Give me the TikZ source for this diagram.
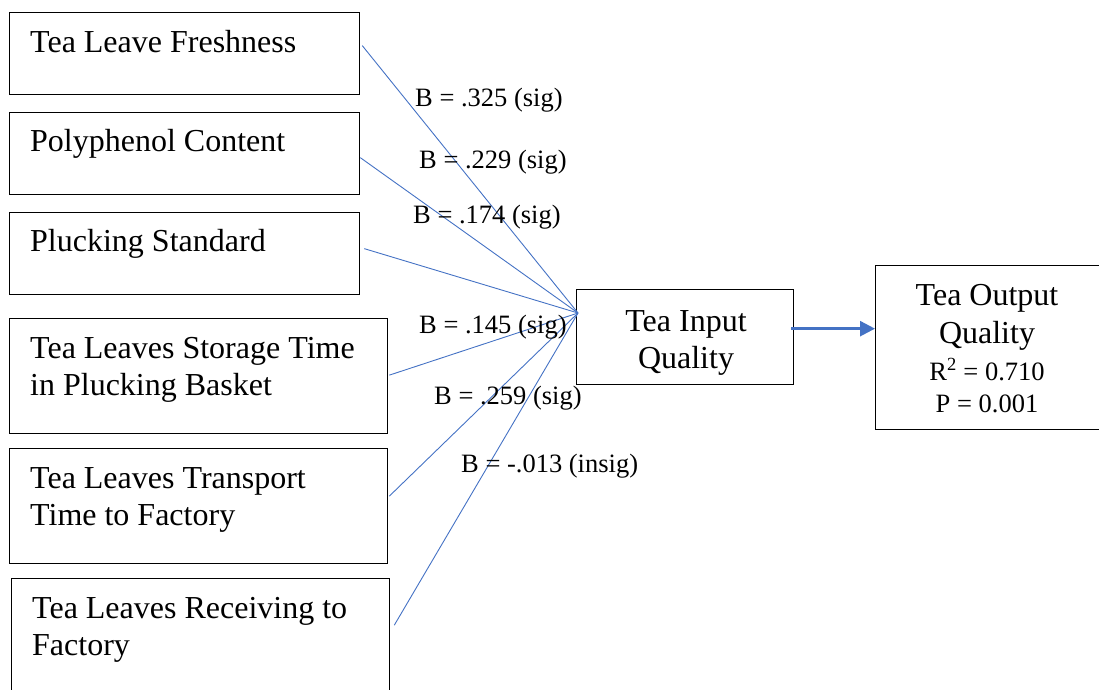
\documentclass[tikz,border=0pt]{standalone}
\usepackage{fontspec}
\setmainfont{Liberation Serif}
\usetikzlibrary{arrows.meta}
\definecolor{pathblue}{RGB}{68,114,196}
\newcommand{\bigtxt}{\fontsize{32}{37}\selectfont}
\newcommand{\smalltxt}{\fontsize{26.5}{31}\selectfont}

\begin{document}
\begin{tikzpicture}[x=1pt,y=-1pt,
    factor/.style={draw,line width=1.3pt,anchor=north west,inner sep=0pt,
      minimum width=350pt,minimum height=82pt},
    wide factor/.style={factor,minimum width=378pt,minimum height=115pt},
    ftext/.style={anchor=base west,align=left,inner sep=0pt,font=\bigtxt},
    beta/.style={anchor=base west,inner sep=0pt,font=\smalltxt},
    path line/.style={draw=pathblue,line width=0.9pt}]
  \useasboundingbox (0,0) rectangle (1099,689);

  % independent factors
  \node[factor] (fresh) at (9,12) {};
  \node[factor] (poly) at (9,112) {};
  \node[factor] (pluck) at (9,212) {};
  \node[wide factor] (store) at (9,318) {};
  \node[wide factor] (trans) at (9,448) {};
  \node[wide factor,minimum height=125pt] (recv) at (11,578) {};

  % (two-line texts sit on their last baseline)
  \node[ftext] (freshtxt) at (30,52) {Tea Leave Freshness};
  \node[ftext] (polytxt) at (30,151) {Polyphenol Content};
  \node[ftext] (plucktxt) at (30,251) {Plucking Standard};
  \node[ftext] (storetxt) at (30,395) {Tea Leaves Storage Time\\in Plucking Basket};
  \node[ftext] (transtxt) at (30,525) {Tea Leaves Transport\\Time to Factory};
  \node[ftext] (recvtxt) at (32,655) {Tea Leaves Receiving to\\Factory};

  % mediator and outcome
  \node[draw,line width=1.3pt,anchor=north west,inner sep=0pt,
    minimum width=217pt,minimum height=95pt] (input) at (576,289) {};
  \node[anchor=base,align=center,inner sep=0pt,font=\bigtxt] (inputtxt)
    at (686,368) {Tea Input\\Quality};
  \node[draw,line width=1.3pt,anchor=north west,inner sep=0pt,
    minimum width=224pt,minimum height=164pt] (output) at (875,265) {};
  \node[anchor=base,inner sep=0pt,font=\bigtxt] (outtxt) at (987,305) {Tea Output};
  \node[anchor=base,inner sep=0pt,font=\bigtxt] (outtxt2) at (987,343) {Quality};
  \node[anchor=base,inner sep=0pt,font=\smalltxt] (rsq) at (987,380) {R\textsuperscript{2} = 0.710};
  \node[anchor=base,inner sep=0pt,font=\smalltxt] (pval) at (987,412) {P = 0.001};

  \coordinate (hub) at (578,313);

  % paths
  \draw[path line] ([xshift=2pt,yshift=8pt]fresh.east) -- (hub);
  \draw[path line] ([yshift=-4pt]poly.east) -- (hub);
  \draw[path line] ([xshift=4pt,yshift=5pt]pluck.east) -- (hub);
  \draw[path line] ([xshift=1pt,yshift=1pt]store.east) -- (hub);
  \draw[path line] ([xshift=1pt,yshift=10pt]trans.east) -- (hub);
  \draw[path line] ([xshift=4pt,yshift=16pt]recv.east) -- (hub);
  \draw[pathblue,line width=2.6pt,-{Triangle[length=15pt,width=15pt]}]
    ([xshift=-3pt,yshift=8.5pt]input.east) -- ([yshift=19pt]output.west);

  % coefficients
  \node[beta] (b1) at (415,106) {B = .325 (sig)};
  \node[beta] (b2) at (419,168) {B = .229 (sig)};
  \node[beta] (b3) at (413,223) {B = .174 (sig)};
  \node[beta] (b4) at (419,333) {B = .145 (sig)};
  \node[beta] (b5) at (434,404) {B = .259 (sig)};
  \node[beta] (b6) at (461,472) {B = -.013 (insig)};
\end{tikzpicture}
\end{document}
